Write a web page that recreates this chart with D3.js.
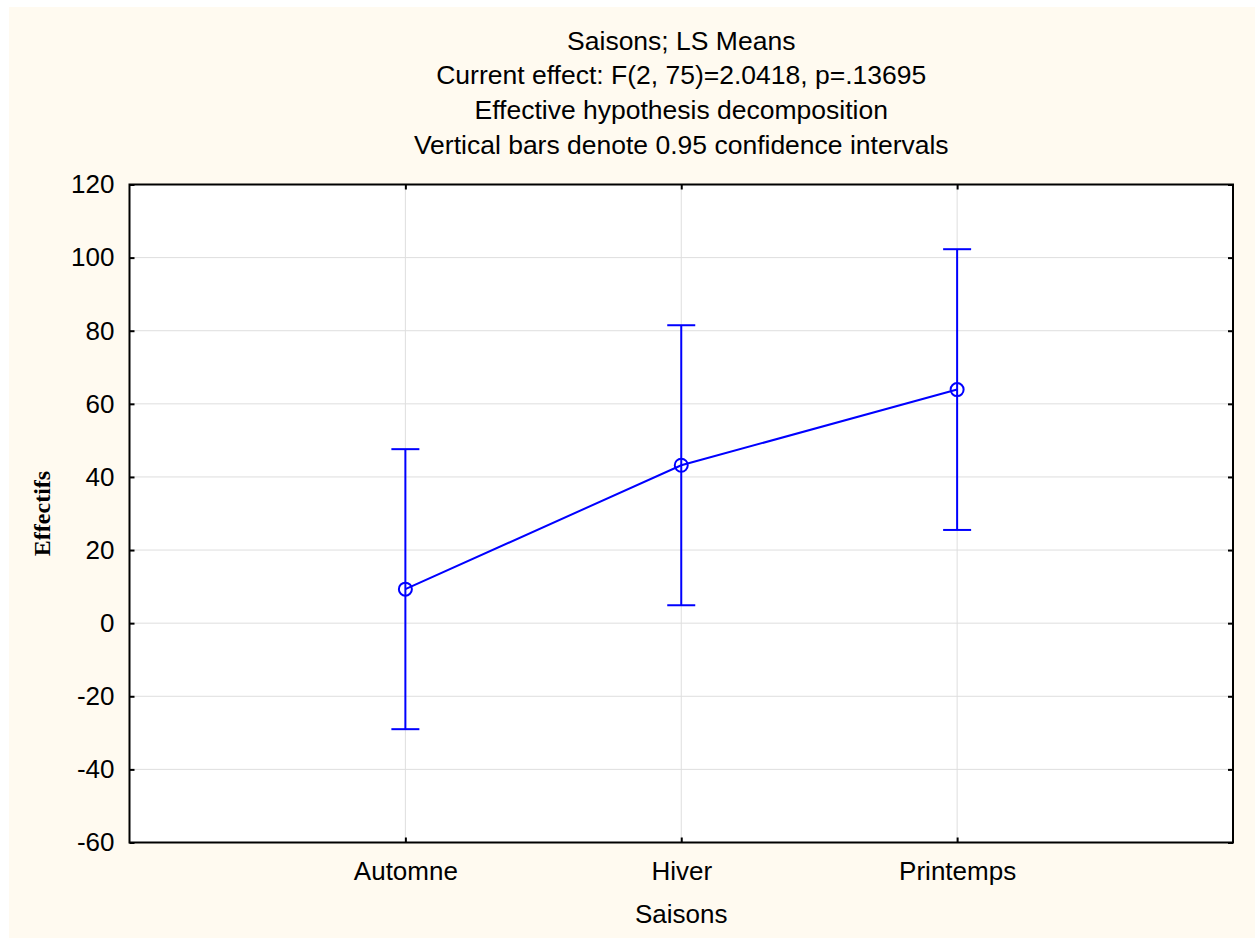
<!DOCTYPE html>
<html>
<head>
<meta charset="utf-8">
<script src="https://cdn.jsdelivr.net/npm/d3@7"></script>
<style>
  body { margin: 0; background: #fff; }
</style>
</head>
<body>
<div id="app"></div>
<script>
const categories = ['Automne', 'Hiver', 'Printemps'];
const means = [9.3, 43.2, 63.9];
const lower = [-29.0, 4.9, 25.5];
const upper = [47.6, 81.5, 102.3];
const yTicks = [-60, -40, -20, 0, 20, 40, 60, 80, 100, 120];
const titleLines = [
  'Saisons; LS Means',
  'Current effect: F(2, 75)=2.0418, p=.13695',
  'Effective hypothesis decomposition',
  'Vertical bars denote 0.95 confidence intervals'
];

const width = 1255;
const height = 938;
const margin = { top: 184.5, right: 22, bottom: 95.5, left: 129.5 };
const plotW = width - margin.left - margin.right;
const plotH = height - margin.top - margin.bottom;
const blue = '#0000ff';
const sans = 'Arial, "Liberation Sans", sans-serif';

const svg = d3.select('#app').append('svg')
  .attr('width', width)
  .attr('height', height);

// page background
svg.append('rect')
  .attr('x', 9).attr('y', 7)
  .attr('width', width - 9).attr('height', height - 7)
  .attr('fill', '#fffaf0');

const x = d3.scalePoint().domain(categories).range([0, plotW]).padding(1);
const y = d3.scaleLinear().domain([-60, 120]).range([plotH, 0]);

const g = svg.append('g').attr('transform', `translate(${margin.left},${margin.top})`);

g.append('rect')
  .attr('width', plotW).attr('height', plotH)
  .attr('fill', '#fff');

// grid
g.append('g').selectAll('line').data(yTicks.slice(1, -1)).join('line')
  .attr('x1', 0).attr('x2', plotW)
  .attr('y1', d => y(d)).attr('y2', d => y(d))
  .attr('stroke', '#dedede').attr('stroke-width', 1);

g.append('g').selectAll('line').data(categories).join('line')
  .attr('x1', d => x(d)).attr('x2', d => x(d))
  .attr('y1', 0).attr('y2', plotH)
  .attr('stroke', '#dedede').attr('stroke-width', 1);

// axes with inward ticks
const axisLeftG = g.append('g')
  .call(d3.axisLeft(y).tickValues(yTicks).tickFormat(d => String(d))
    .tickSizeInner(-5).tickSizeOuter(0).tickPadding(15));
const axisRightG = g.append('g').attr('transform', `translate(${plotW},0)`)
  .call(d3.axisRight(y).tickValues(yTicks).tickSizeInner(-5).tickSizeOuter(0).tickFormat(''));
const axisBottomG = g.append('g').attr('transform', `translate(0,${plotH})`)
  .call(d3.axisBottom(x).tickSizeInner(-5).tickSizeOuter(0).tickPadding(19));
const axisTopG = g.append('g')
  .call(d3.axisTop(x).tickSizeInner(-5).tickSizeOuter(0).tickFormat(''));

[axisLeftG, axisRightG, axisBottomG, axisTopG].forEach(a => {
  a.select('.domain').remove();
  a.selectAll('.tick line').attr('stroke', '#000').attr('stroke-width', 2);
  a.selectAll('text').attr('font-size', 26).attr('font-family', sans).attr('fill', '#000');
});

g.append('rect')
  .attr('width', plotW).attr('height', plotH)
  .attr('fill', 'none').attr('stroke', '#000').attr('stroke-width', 2);

// error bars
const bars = g.append('g').attr('stroke', blue).attr('stroke-width', 2);
categories.forEach((c, i) => {
  const cx = x(c);
  bars.append('line').attr('x1', cx).attr('x2', cx).attr('y1', y(lower[i])).attr('y2', y(upper[i]));
  bars.append('line').attr('x1', cx - 14).attr('x2', cx + 14).attr('y1', y(lower[i])).attr('y2', y(lower[i]));
  bars.append('line').attr('x1', cx - 14).attr('x2', cx + 14).attr('y1', y(upper[i])).attr('y2', y(upper[i]));
});

// mean line + points
g.append('path')
  .datum(means)
  .attr('d', d3.line().x((d, i) => x(categories[i])).y(d => y(d)))
  .attr('fill', 'none').attr('stroke', blue).attr('stroke-width', 2);

g.append('g').selectAll('circle').data(means).join('circle')
  .attr('cx', (d, i) => x(categories[i])).attr('cy', d => y(d))
  .attr('r', 6.5)
  .attr('fill', 'none').attr('stroke', blue).attr('stroke-width', 2);

// titles
svg.append('g').selectAll('text').data(titleLines).join('text')
  .attr('x', margin.left + plotW / 2)
  .attr('y', (d, i) => 49.5 + i * 34.7)
  .attr('text-anchor', 'middle')
  .attr('font-family', sans)
  .attr('font-size', 26.5)
  .text(d => d);

svg.append('text')
  .attr('x', margin.left + plotW / 2)
  .attr('y', 923)
  .attr('text-anchor', 'middle')
  .attr('font-family', sans)
  .attr('font-size', 26)
  .text('Saisons');

svg.append('text')
  .attr('transform', `translate(50,${margin.top + plotH / 2}) rotate(-90)`)
  .attr('text-anchor', 'middle')
  .attr('font-family', '"Times New Roman", "Liberation Serif", serif')
  .attr('font-weight', 'bold')
  .attr('font-size', 24)
  .text('Effectifs');
</script>
</body>
</html>
